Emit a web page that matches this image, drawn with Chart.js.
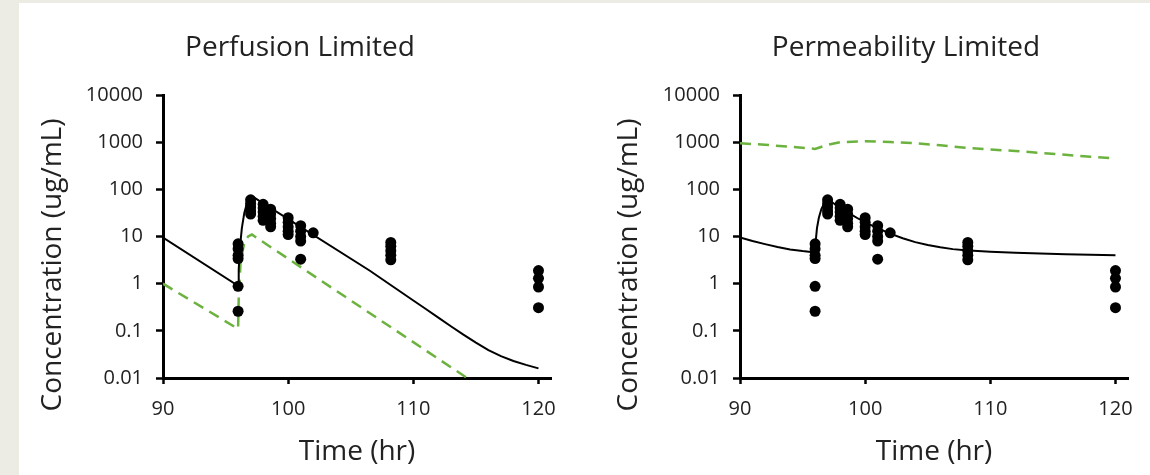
<!DOCTYPE html>
<html lang="en">
<head>
    <meta charset="UTF-8">
    <title>Perfusion vs Permeability Limited</title>
    <script src="https://cdn.jsdelivr.net/npm/chart.js"></script>
    <style>
        body {
            margin: 0;
            width: 1150px;
            height: 475px;
            background-color: #ecebe4;
            overflow: hidden;
            position: relative;
        }
        #panel {
            position: absolute;
            left: 19px;
            top: 3px;
            right: 0;
            bottom: 0;
            background: white;
        }
        canvas {
            position: absolute;
            top: 0;
        }
    </style>
</head>
<body>
    <div id="panel"></div>
    <canvas id="perfusion" width="580" height="475" style="left:0px"></canvas>
    <canvas id="permeability" width="570" height="475" style="left:580px"></canvas>
    <script>
        // axis ticks
        const xTicks = [90, 100, 110, 120];
        const yTicks = [0.01, 0.1, 1, 10, 100, 1000, 10000];
        const yTickLabels = ["0.01", "0.1", "1", "10", "100", "1000", "10000"];

        // observed concentrations (same in both panels)
        const obsTime = [96, 96, 96, 96, 96, 96,
            97, 97, 97, 97, 97,
            98, 98, 98, 98, 98,
            98.6, 98.6, 98.6, 98.6, 98.6,
            100, 100, 100, 100, 100,
            101, 101, 101, 101, 101,
            102,
            108.2, 108.2, 108.2, 108.2, 108.2,
            120, 120, 120, 120];
        const obsConc = [0.26, 0.88, 3.4, 4.0, 5.5, 7.0,
            60, 50, 42, 35, 30,
            48, 40, 33, 27, 22,
            38, 30, 24, 19, 16,
            25, 20, 16, 13, 11,
            17, 13, 10, 8, 3.3,
            12,
            7.5, 6.2, 5.0, 4.0, 3.2,
            1.9, 1.3, 0.85, 0.31];

        // perfusion limited model
        const perfTime = [90, 96, 96.05, 96.15, 96.3, 96.5, 96.75, 97.1, 106.5, 110, 111, 112, 113, 114, 115, 116, 117, 118, 119, 120];
        const perfPlasma = [9.5, 0.9, 2, 6, 15, 32, 55, 72, 1.9, 0.44, 0.29, 0.19, 0.125, 0.083, 0.056, 0.039, 0.029, 0.023, 0.019, 0.016];
        const perfTissueTime = [90, 96, 96.05, 96.2, 96.5, 96.8, 97.1, 114.3];
        const perfTissue = [1.0, 0.11, 0.5, 3, 7.5, 10, 11, 0.01];

        // permeability limited model
        const permTime = [90, 91, 92, 93, 94, 95, 96, 96.05, 96.15, 96.3, 96.5, 96.75, 97,
            97.5, 98, 98.5, 99, 99.5, 100, 101, 102, 103, 104, 105, 106, 107, 108, 110, 112, 116, 120];
        const permPlasma = [9.5, 8.0, 6.9, 6.0, 5.3, 4.9, 4.6, 8, 15, 25, 38, 52, 62,
            50, 40, 33, 28, 23.5, 20, 15, 11.5, 9.2, 7.6, 6.6, 5.9, 5.4, 5.1, 4.75, 4.5, 4.2, 4.0];
        const permTissueTime = [90, 92, 94, 96, 97, 98, 100, 102, 104, 106, 108, 110, 112, 114, 116, 118, 120];
        const permTissue = [950, 880, 800, 720, 880, 1000, 1050, 1010, 950, 860, 760, 700, 650, 590, 540, 490, 450];

        const FONT = "'Open Sans', sans-serif";
        const TEXT = '#222';
        const GREEN = '#6cb23e';

        function pts(xs, ys) {
            return xs.map((x, i) => ({ x: x, y: ys[i] }));
        }

        // chart title and rotated y-axis title, placed like the original figure
        const labelPlugin = {
            id: 'labels',
            afterDraw(chart, args, opts) {
                const ctx = chart.ctx;
                ctx.save();
                ctx.font = "28px " + FONT;
                ctx.fillStyle = TEXT;
                ctx.textAlign = 'center';
                ctx.textBaseline = 'middle';
                ctx.fillText(opts.title, opts.titleX, 48);
                ctx.translate(opts.yTitleX, 265);
                ctx.rotate(-Math.PI / 2);
                ctx.fillText(opts.yTitle, 0, 0);
                ctx.restore();
            }
        };

        function makeChart(id, title, plasmaT, plasma, tissueT, tissue, pad, yWidth, titleX, yTitleX) {
            return new Chart(document.getElementById(id), {
                type: 'scatter',
                data: {
                    datasets: [
                        {
                            label: 'Observed',
                            data: pts(obsTime, obsConc),
                            backgroundColor: '#000',
                            borderWidth: 0,
                            pointRadius: 5.5
                        },
                        {
                            label: 'Plasma',
                            data: pts(plasmaT, plasma),
                            showLine: true,
                            borderColor: '#000',
                            borderWidth: 2,
                            pointRadius: 0
                        },
                        {
                            label: 'Tissue',
                            data: pts(tissueT, tissue),
                            showLine: true,
                            borderColor: GREEN,
                            borderWidth: 2.5,
                            borderDash: [11, 7],
                            pointRadius: 0
                        }
                    ]
                },
                options: {
                    responsive: false,
                    animation: false,
                    layout: { padding: pad },
                    plugins: {
                        legend: { display: false },
                        tooltip: { enabled: false },
                        labels: { title: title, titleX: titleX, yTitle: 'Concentration (ug/mL)', yTitleX: yTitleX }
                    },
                    scales: {
                        x: {
                            type: 'linear',
                            min: 90,
                            max: 121,
                            afterBuildTicks: s => { s.ticks = xTicks.map(v => ({ value: v })); },
                            afterFit: s => { s.height = 97; },
                            grid: { drawOnChartArea: false, tickLength: 6, tickWidth: 2.5, tickColor: '#000' },
                            border: { color: '#000', width: 3 },
                            ticks: { color: TEXT, font: { family: FONT, size: 20 }, padding: 13 },
                            title: {
                                display: true,
                                text: 'Time (hr)',
                                color: TEXT,
                                font: { family: FONT, size: 28 },
                                padding: { top: 0, bottom: 6 }
                            }
                        },
                        y: {
                            type: 'logarithmic',
                            min: 0.01,
                            max: 10000,
                            afterBuildTicks: s => { s.ticks = yTicks.map(v => ({ value: v })); },
                            afterFit: s => { s.width = yWidth; },
                            grid: { drawOnChartArea: false, tickLength: 7, tickWidth: 2.5, tickColor: '#000' },
                            border: { color: '#000', width: 3 },
                            ticks: {
                                autoSkip: false,
                                color: TEXT,
                                font: { family: FONT, size: 20 },
                                padding: 13,
                                callback: (v, i) => yTickLabels[i]
                            }
                        }
                    }
                },
                plugins: [labelPlugin]
            });
        }

        makeChart('perfusion', 'Perfusion Limited', perfTime, perfPlasma, perfTissueTime, perfTissue,
            { left: 20, right: 29, top: 95, bottom: 0 }, 143, 300, 53);
        makeChart('permeability', 'Permeability Limited', permTime, permPlasma, permTissueTime, permTissue,
            { left: 20, right: 22, top: 95, bottom: 0 }, 140, 326, 49);
    </script>
</body>
</html>
